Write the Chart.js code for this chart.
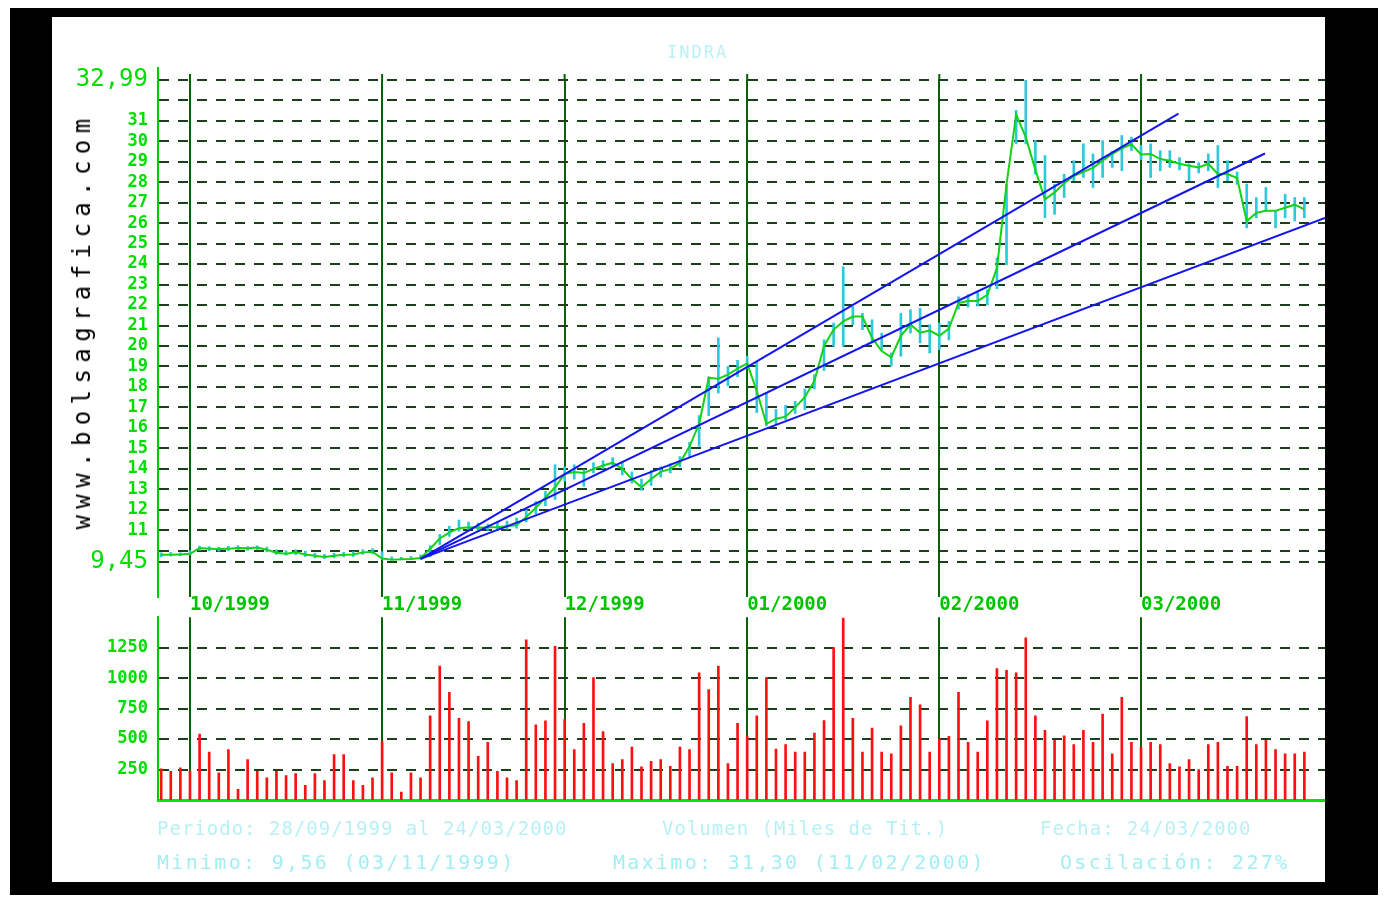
<!DOCTYPE html>
<html>
<head>
<meta charset="utf-8">
<script src="https://cdn.jsdelivr.net/npm/chart.js@4.4.1/dist/chart.umd.min.js"></script>
<style>
html,body{margin:0;padding:0;background:#fff;width:1387px;height:904px;overflow:hidden;position:relative;font-family:"DejaVu Sans Mono",monospace;}
#frame{position:absolute;left:10px;top:8px;width:1368px;height:887px;background:#000;}
#inner{position:absolute;left:52px;top:17px;width:1273px;height:865px;background:#fff;}
#cp{position:absolute;left:52px;top:17px;}
#cv{position:absolute;left:52px;top:597px;}
.t{position:absolute;white-space:pre;font-family:"DejaVu Sans Mono",monospace;line-height:20px;}
.l1{font-size:19px;letter-spacing:1px;color:rgba(80,220,232,0.42);top:818px;}
.l2{font-size:20px;letter-spacing:2.3px;color:#a2eef4;top:852px;}
#wm{position:absolute;left:82px;top:321px;transform:translate(-50%,-50%) rotate(-90deg);font-family:"DejaVu Sans Mono",monospace;font-size:24px;letter-spacing:6.4px;color:#000;white-space:pre;}
#title{position:absolute;left:667px;top:42px;font-size:17px;letter-spacing:2px;color:rgba(80,220,232,0.4);}
</style>
</head>
<body>
<div id="frame"></div>
<div id="inner"></div>
<canvas id="cp" width="1273" height="600"></canvas>
<canvas id="cv" width="1273" height="285"></canvas>
<div id="title" class="t">INDRA</div>
<div id="wm">www.bolsagrafica.com</div>
<div class="t l1" style="left:157px;">Periodo: 28/09/1999 al 24/03/2000</div>
<div class="t l1" style="left:662px;">Volumen (Miles de Tit.)</div>
<div class="t l1" style="left:1040px;">Fecha: 24/03/2000</div>
<div class="t l2" style="left:157px;">Minimo: 9,56 (03/11/1999)</div>
<div class="t l2" style="left:613px;">Maximo: 31,30 (11/02/2000)</div>
<div class="t l2" style="left:1060px;">Oscilación: 227%</div>
<script>
// ---- data ----
const monthIdx = [3, 23, 42, 61, 81, 102];
const monthLabels = ['10/1999', '11/1999', '12/1999', '01/2000', '02/2000', '03/2000'];

const priceTicks = [9.45, 10, 11, 12, 13, 14, 15, 16, 17, 18, 19, 20, 21, 22, 23, 24, 25, 26, 27, 28, 29, 30, 31, 32, 32.99];
const priceTickLabels = ['9,45', '', '11', '12', '13', '14', '15', '16', '17', '18', '19', '20', '21', '22', '23', '24', '25', '26', '27', '28', '29', '30', '31', '', '32,99'];

const volumeTicks = [250, 500, 750, 1000, 1250];
const volumeTickLabels = ['250', '500', '750', '1000', '1250'];

const closes = [
  9.80, 9.80, 9.82, 9.85, 10.13, 10.10, 10.08, 10.10, 10.13, 10.12,
  10.16, 10.05, 9.90, 9.85, 9.92, 9.82, 9.75, 9.70, 9.75, 9.80,
  9.82, 9.92, 9.95, 9.62, 9.56, 9.58, 9.60, 9.64, 10.10, 10.60,
  10.90, 11.10, 11.15, 11.12, 11.15, 11.15, 11.20, 11.25, 11.65, 12.10,
  12.60, 13.10, 13.75, 13.85, 13.80, 14.00, 14.16, 14.30, 14.00, 13.50,
  13.10, 13.50, 13.85, 14.00, 14.30, 15.10, 16.20, 18.45, 18.40, 18.60,
  18.90, 19.15, 17.80, 16.20, 16.45, 16.55, 17.00, 17.50, 18.30, 20.00,
  20.80, 21.20, 21.44, 21.44, 20.40, 19.75, 19.45, 20.50, 21.05, 20.65,
  20.75, 20.50, 20.85, 22.10, 22.20, 22.20, 22.50, 23.80, 27.90, 31.30,
  30.20, 28.60, 27.16, 27.50, 27.95, 28.30, 28.50, 28.70, 29.05, 29.38,
  29.65, 29.85, 29.35, 29.38, 29.13, 29.05, 28.90, 28.80, 28.72, 28.90,
  28.40, 28.40, 28.20, 26.10, 26.50, 26.60, 26.60, 26.75, 26.90, 26.67
];

const highs = [
  9.90, 9.92, 9.90, 10.00, 10.22, 10.20, 10.18, 10.22, 10.25, 10.20,
  10.24, 10.18, 10.05, 10.00, 10.05, 9.98, 9.88, 9.82, 9.88, 9.92,
  9.95, 10.05, 10.10, 9.95, 9.70, 9.68, 9.72, 9.80, 10.25, 10.80,
  11.20, 11.50, 11.40, 11.35, 11.30, 11.40, 11.45, 11.60, 12.00, 12.40,
  12.90, 14.20, 14.10, 14.20, 13.95, 14.30, 14.40, 14.55, 14.35, 13.85,
  13.50, 13.92, 14.10, 14.25, 14.60, 15.30, 16.60, 18.50, 20.40, 19.00,
  19.30, 19.50, 19.20, 17.70, 16.90, 17.10, 17.30, 17.90, 18.60, 20.30,
  21.12, 23.87, 21.93, 21.60, 21.28, 20.63, 19.66, 21.60, 21.77, 21.85,
  21.04, 21.12, 21.20, 22.40, 22.50, 22.60, 22.75, 24.30, 27.90, 31.51,
  32.98, 30.03, 29.30, 27.90, 28.39, 29.05, 29.87, 29.38, 30.03, 29.50,
  30.28, 30.20, 29.80, 29.87, 29.54, 29.54, 29.20, 28.89, 28.95, 29.38,
  29.79, 29.05, 28.50, 27.90, 27.25, 27.74, 26.59, 27.41, 27.25, 27.25
];

const lows = [
  9.70, 9.74, 9.76, 9.80, 10.02, 10.00, 9.98, 10.00, 10.05, 10.02,
  10.06, 9.95, 9.82, 9.78, 9.80, 9.72, 9.65, 9.62, 9.65, 9.70,
  9.72, 9.82, 9.85, 9.58, 9.56, 9.56, 9.58, 9.60, 9.70, 10.30,
  10.70, 10.95, 11.00, 10.95, 11.00, 11.00, 11.05, 11.10, 11.40, 11.80,
  12.20, 12.50, 13.40, 13.50, 13.15, 13.80, 14.00, 14.10, 13.70, 13.30,
  12.95, 13.19, 13.60, 13.80, 14.10, 14.60, 15.10, 16.60, 17.70, 18.05,
  18.50, 18.90, 16.75, 16.10, 16.20, 16.40, 16.70, 16.90, 17.90, 18.80,
  19.99, 19.99, 21.04, 20.80, 20.15, 19.82, 19.02, 19.50, 20.63, 20.15,
  19.66, 19.82, 20.30, 21.80, 21.90, 21.95, 22.00, 22.80, 23.97, 29.87,
  29.87, 28.39, 26.26, 26.43, 27.25, 28.07, 28.23, 27.74, 28.23, 28.72,
  28.56, 29.54, 29.10, 28.23, 28.56, 28.72, 28.60, 28.07, 28.45, 28.56,
  27.74, 28.07, 27.90, 25.77, 26.26, 26.59, 25.77, 26.26, 26.10, 26.26
];

const volumes = [
  255, 236, 263, 240, 540, 394, 223, 413, 87, 331,
  236, 182, 236, 201, 217, 120, 217, 160, 372, 372,
  160, 120, 182, 480, 223, 65, 223, 182, 690, 1098,
  883, 671, 644, 359, 473, 236, 182, 160, 1315, 617,
  650, 1261, 660, 413, 630, 1005, 562, 299, 331, 435,
  272, 318, 331, 277, 435, 413, 1043, 907, 1098, 299,
  630, 520, 690, 1005, 418, 454, 394, 394, 549, 652,
  1250, 1492, 671, 394, 590, 394, 378, 609, 842, 780,
  394, 500, 522, 883, 473, 394, 650, 1079, 1065, 1043,
  1331, 690, 571, 489, 527, 454, 571, 473, 706, 378,
  842, 473, 430, 473, 454, 299, 272, 331, 250, 454,
  473, 277, 277, 685, 454, 489, 413, 378, 378, 394
];

// trend lines (start / end in day index and price)
const trendX0 = [27, 27, 27];
const trendY0 = [9.60, 9.60, 9.60];
const trendX1 = [105.9, 114.9, 121.15];
const trendY1 = [31.35, 29.40, 26.25];

// ---- styling ----
const MONO = '"DejaVu Sans Mono", monospace';
const GREEN_TXT = '#00dd00';
const MONTH_LINE = '#0b5e0b';
const DASH_COLOR = '#1c401c';
const X_MIN = -0.33, X_MAX = 121.15;

const extendPlugin = {
  id: 'ext',
  afterDraw(chart) {
    const { ctx, chartArea: a, scales: { x } } = chart;
    ctx.save();
    ctx.strokeStyle = MONTH_LINE; ctx.lineWidth = 2;
    monthIdx.forEach(m => {
      const px = x.getPixelForValue(m);
      ctx.beginPath(); ctx.moveTo(px, a.top - 6); ctx.lineTo(px, a.top); ctx.stroke();
    });
    ctx.strokeStyle = '#00cc00'; ctx.lineWidth = 2;
    ctx.beginPath(); ctx.moveTo(a.left, a.top - 13); ctx.lineTo(a.left, a.bottom + 36); ctx.stroke();
    ctx.restore();
  }
};

const trendDatasets = trendX0.map((x0, k) => ({
  type: 'line',
  data: [{ x: x0, y: trendY0[k] }, { x: trendX1[k], y: trendY1[k] }],
  borderColor: '#1414ee', borderWidth: 2, pointRadius: 0, order: 0
}));

new Chart(document.getElementById('cp'), {
  type: 'line',
  data: {
    datasets: [
      ...trendDatasets,
      {
        type: 'line',
        data: closes.map((c, i) => ({ x: i, y: c })),
        borderColor: '#14d214', borderWidth: 2, pointRadius: 0, tension: 0, order: 1
      },
      {
        type: 'bar',
        data: highs.map((h, i) => ({ x: i, y: [lows[i], h] })),
        backgroundColor: '#2cc9dc', barThickness: 2, order: 2
      }
    ]
  },
  options: {
    responsive: false, animation: false,
    layout: { padding: { top: 63, right: 0, bottom: 0, left: 0 } },
    plugins: { legend: { display: false }, tooltip: { enabled: false } },
    scales: {
      x: {
        type: 'linear', min: X_MIN, max: X_MAX, offset: false,
        afterBuildTicks: s => { s.ticks = monthIdx.map(v => ({ value: v })); },
        afterFit: s => { s.height = 55; },
        grid: { color: MONTH_LINE, lineWidth: 2, drawOnChartArea: true, drawTicks: true, tickLength: 35, tickColor: MONTH_LINE, tickWidth: 2, offset: false },
        border: { display: false },
        ticks: {
          autoSkip: false, maxRotation: 0, minRotation: 0, align: 'start', padding: -3,
          color: '#00c400', font: { family: MONO, size: 19, weight: 'bold' },
          callback: v => { const k = monthIdx.indexOf(v); return k >= 0 ? monthLabels[k] : ''; }
        }
      },
      y: {
        type: 'linear', min: 9.45, max: 32.99,
        afterBuildTicks: s => { s.ticks = priceTicks.map(v => ({ value: v })); },
        afterFit: s => { s.width = 106; },
        grid: { color: DASH_COLOR, lineWidth: 2, drawTicks: false },
        border: { display: true, color: '#00cc00', width: 2, dash: [10, 9] },
        ticks: {
          autoSkip: false, padding: 10, color: GREEN_TXT,
          font: ctx => {
            const v = ctx.tick ? ctx.tick.value : null;
            return (v === 32.99 || v === 9.45) ? { family: MONO, size: 24, weight: 'normal' } : { family: MONO, size: 17, weight: 'bold' };
          },
          callback: (v, i) => priceTickLabels[i]
        }
      }
    }
  },
  plugins: [extendPlugin]
});

new Chart(document.getElementById('cv'), {
  type: 'bar',
  data: {
    datasets: [{
      data: volumes.map((v, i) => ({ x: i, y: v })),
      backgroundColor: '#ff1010', barThickness: 2
    }]
  },
  options: {
    responsive: false, animation: false,
    layout: { padding: { top: 1, right: 0, bottom: 0, left: 0 } },
    plugins: { legend: { display: false }, tooltip: { enabled: false } },
    scales: {
      x: {
        type: 'linear', min: X_MIN, max: X_MAX, offset: false,
        afterBuildTicks: s => { s.ticks = monthIdx.map(v => ({ value: v })); },
        afterFit: s => { s.height = 82; },
        grid: { color: MONTH_LINE, lineWidth: 2, drawTicks: false, offset: false },
        border: { display: true, color: '#00e600', width: 3 },
        ticks: { display: false }
      },
      y: {
        type: 'linear', min: 0, max: 1500,
        afterBuildTicks: s => { s.ticks = volumeTicks.map(v => ({ value: v })); },
        afterFit: s => { s.width = 106; },
        grid: { color: DASH_COLOR, lineWidth: 2, drawTicks: false },
        border: { display: true, color: '#00cc00', width: 2, dash: [10, 9] },
        ticks: {
          autoSkip: false, padding: 10, color: GREEN_TXT,
          font: { family: MONO, size: 17, weight: 'bold' },
          callback: (v, i) => volumeTickLabels[i]
        }
      }
    }
  }
});
</script>
</body>
</html>
